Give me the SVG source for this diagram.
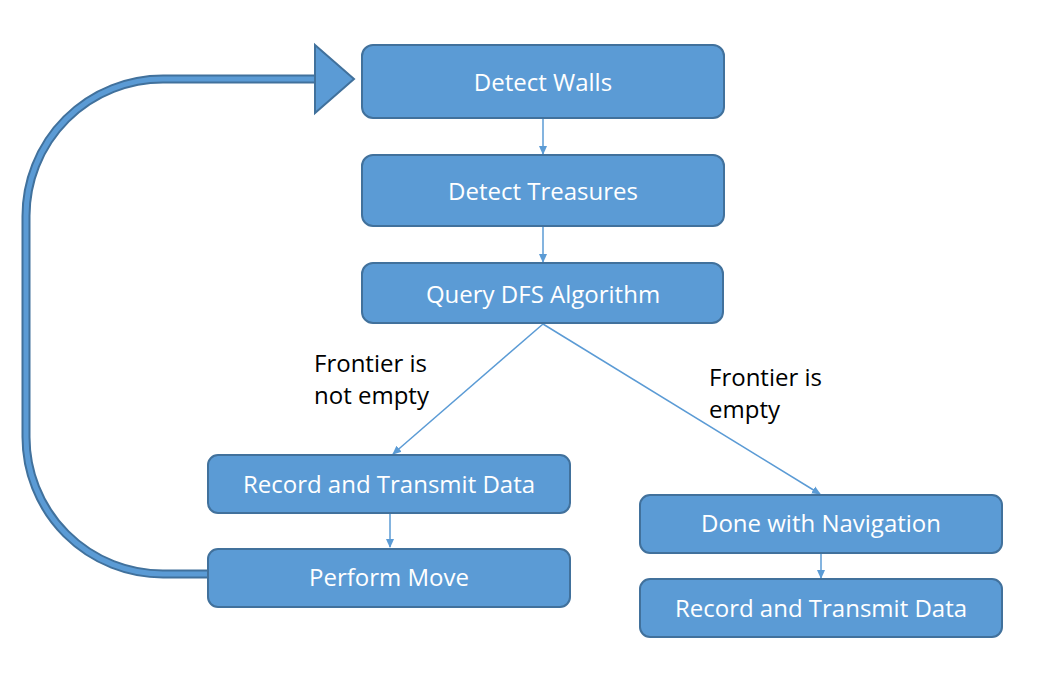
<svg xmlns="http://www.w3.org/2000/svg" width="1052" height="690" viewBox="0 0 1052 690">
<style>
.box{fill:#5b9bd5;stroke:#41719c;stroke-width:2}
.lbl{fill:#ffffff;font-family:"Open Sans","Liberation Sans",sans-serif;font-size:24px;text-anchor:middle;dominant-baseline:central}
.note{fill:#000000;font-family:"Open Sans","Liberation Sans",sans-serif;font-size:24px}
.conn{stroke:#5b9bd5;stroke-width:1.5;fill:none}
</style>
<defs>
<marker id="ah" markerWidth="10" markerHeight="10" refX="8" refY="5" orient="auto" markerUnits="userSpaceOnUse">
<path d="M0,1 L9,5 L0,9 Z" fill="#5b9bd5"/>
</marker>
</defs>
<rect width="1052" height="690" fill="#ffffff"/>
<g id="loop">
<path d="M208,574 L163,574 A137,137 0 0 1 26,437 L26,216 A137,137 0 0 1 163,79 L318,79" fill="none" stroke="#41719c" stroke-width="9"/>
<path d="M208,574 L163,574 A137,137 0 0 1 26,437 L26,216 A137,137 0 0 1 163,79 L320,79" fill="none" stroke="#5b9bd5" stroke-width="5"/>
<polygon points="315,45 354,79 315,113" fill="#5b9bd5" stroke="#41719c" stroke-width="2" stroke-linejoin="miter"/>
</g>
<g id="connectors">
<line class="conn" x1="543" y1="119" x2="543" y2="154" marker-end="url(#ah)"/>
<line class="conn" x1="543" y1="227" x2="543" y2="262" marker-end="url(#ah)"/>
<line class="conn" x1="543" y1="324" x2="393" y2="454" marker-end="url(#ah)"/>
<line class="conn" x1="543" y1="324" x2="820" y2="494" marker-end="url(#ah)"/>
<line class="conn" x1="390" y1="514" x2="390" y2="547" marker-end="url(#ah)"/>
<line class="conn" x1="821" y1="554" x2="821" y2="578" marker-end="url(#ah)"/>
</g>
<g id="n1"><rect class="box" x="362" y="45" width="362" height="73" rx="11"/><text class="lbl" x="543" y="81">Detect Walls</text></g>
<g id="n2"><rect class="box" x="362" y="155" width="362" height="71" rx="11"/><text class="lbl" x="543" y="190">Detect Treasures</text></g>
<g id="n3"><rect class="box" x="362" y="263" width="361" height="60" rx="11"/><text class="lbl" x="543" y="293">Query DFS Algorithm</text></g>
<g id="n4"><rect class="box" x="208" y="455" width="362" height="58" rx="10"/><text class="lbl" x="389" y="483">Record and Transmit Data</text></g>
<g id="n5"><rect class="box" x="208" y="549" width="362" height="58" rx="10"/><text class="lbl" x="389" y="576">Perform Move</text></g>
<g id="n6"><rect class="box" x="640" y="495" width="362" height="58" rx="10"/><text class="lbl" x="821" y="522">Done with Navigation</text></g>
<g id="n7"><rect class="box" x="640" y="579" width="362" height="58" rx="10"/><text class="lbl" x="821" y="607">Record and Transmit Data</text></g>
<g id="labels">
<text class="note" x="314" y="372">Frontier is</text>
<text class="note" x="314" y="404">not empty</text>
<text class="note" x="709" y="386">Frontier is</text>
<text class="note" x="709" y="418">empty</text>
</g>
</svg>
